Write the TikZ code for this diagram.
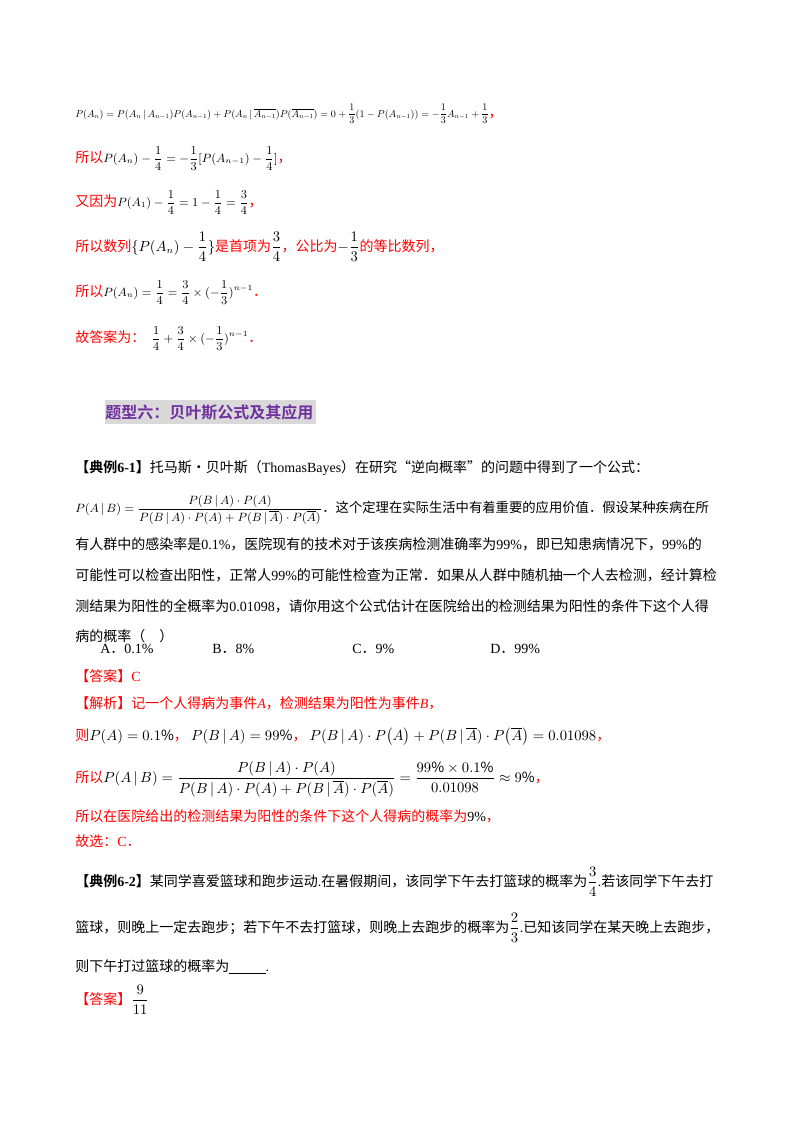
\documentclass[tikz,border=0pt]{standalone}
\usepackage{amsmath}
\usepackage{graphicx}
\usepackage{fontspec}
\setmainfont{Noto Sans CJK SC}
\newfontfamily\lat{Liberation Serif}
\newfontfamily\cjkb{Noto Sans CJK SC Bold}
\definecolor{rd}{RGB}{255,0,0}
\definecolor{pu}{RGB}{112,48,160}
\definecolor{tg}{RGB}{217,217,217}
\newcommand\La[1]{{\lat #1}}
\begin{document}
\begin{tikzpicture}[x=0.75pt,y=-0.75pt,
  txt/.style={anchor=base west,inner sep=0pt,font=\fontsize{10.5}{12}\selectfont},
  red/.style={txt,text=rd}]
\useasboundingbox[fill=white] (0,0) rectangle (800,1132);
% first block
\node[txt] (l1) at (75,117) {\resizebox{310pt}{!}{$P(A_n)=P(A_n\,|\,A_{n-1})P(A_{n-1})+P(A_n\,|\,\overline{A_{n-1}})P(\overline{A_{n-1}})=0+\dfrac{1}{3}(1-P(A_{n-1}))=-\dfrac{1}{3}A_{n-1}+\dfrac{1}{3}$}\textcolor{rd}{，}};
\node[red] (l2) at (75,162) {所以\textcolor{black}{\small$P(A_n)-\dfrac{1}{4}=-\dfrac{1}{3}[P(A_{n-1})-\dfrac{1}{4}]$}，};
\node[red] (l3) at (75,206) {又因为\textcolor{black}{\small$P(A_1)-\dfrac{1}{4}=1-\dfrac{1}{4}=\dfrac{3}{4}$}，};
\node[red] (l4) at (75,251) {所以数列\textcolor{black}{$\{P(A_n)-\dfrac{1}{4}\}$}是首项为\textcolor{black}{$\dfrac{3}{4}$}，公比为\textcolor{black}{$-\dfrac{1}{3}$}的等比数列，};
\node[red] (l5) at (75,296) {所以\textcolor{black}{\small$P(A_n)=\dfrac{1}{4}=\dfrac{3}{4}\times(-\dfrac{1}{3})^{n-1}$}．};
\node[red] (l6) at (75,342) {故答案为：\ \ \textcolor{black}{\small$\dfrac{1}{4}+\dfrac{3}{4}\times(-\dfrac{1}{3})^{n-1}$}．};
% title
\fill[tg] (105,400) rectangle (316,424);
\node[anchor=base west,inner sep=0pt,font=\fontsize{12}{14}\selectfont\cjkb,text=pu] (ttl) at (105,418) {题型六：贝叶斯公式及其应用};
% example 6-1
\node[txt] (e1) at (75,472) {{\cjkb【典例\La{\bfseries 6-1}】}托马斯·贝叶斯（\La{ThomasBayes}）在研究“逆向概率"的问题中得到了一个公式：};
\node[txt] (e2) at (75,512) {\small$P(A\,|\,B)=\dfrac{P(B\,|\,A)\cdot P(A)}{P(B\,|\,A)\cdot P(A)+P(B\,|\,\overline{A})\cdot P(\overline{A})}$\normalsize．这个定理在实际生活中有着重要的应用价值．假设某种疾病在所};
\node[txt] (e3) at (75,549) {有人群中的感染率是\La{0.1\%}，医院现有的技术对于该疾病检测准确率为\La{99\%}，即已知患病情况下，\La{99\%}的};
\node[txt] (e4) at (75,580) {可能性可以检查出阳性，正常人\La{99\%}的可能性检查为正常．如果从人群中随机抽一个人去检测，经计算检};
\node[txt] (e5) at (75,611) {测结果为阳性的全概率为\La{0.01098}，请你用这个公式估计在医院给出的检测结果为阳性的条件下这个人得};
\node[txt] (e6) at (75,641) {病的概率（\quad）};
\node[txt] (oA) at (100,653) {\La{A}．\La{0.1\%}};
\node[txt] (oB) at (212,653) {\La{B}．\La{8\%}};
\node[txt] (oC) at (352,653) {\La{C}．\La{9\%}};
\node[txt] (oD) at (490,653) {\La{D}．\La{99\%}};
\node[red] (a1) at (75,681) {【答案】\La{C}};
\node[red] (s1) at (75,708) {【解析】记一个人得病为事件\La{\itshape A}，检测结果为阳性为事件\La{\itshape B}，};
\node[red] (s2) at (75,740) {则\textcolor{black}{$P(A)=0.1\%$}，\ \textcolor{black}{$P(B\,|\,A)=99\%$}，\ \textcolor{black}{$P(B\,|\,A)\cdot P\big(A\big)+P(B\,|\,\overline{A})\cdot P\big(\overline{A}\big)=0.01098$}，};
\node[red] (s3) at (75,782) {所以\textcolor{black}{$P(A\,|\,B)=\dfrac{P(B\,|\,A)\cdot P(A)}{P(B\,|\,A)\cdot P(A)+P(B\,|\,\overline{A})\cdot P(\overline{A})}=\dfrac{99\%\times0.1\%}{0.01098}\approx9\%$}，};
\node[red] (s4) at (75,821) {所以在医院给出的检测结果为阳性的条件下这个人得病的概率为\textcolor{black}{\La{9\%}}，};
\node[red] (s5) at (75,846) {故选：\La{C}．};
% example 6-2
\node[txt] (f1) at (75,886) {{\cjkb【典例\La{\bfseries 6-2}】}某同学喜爱篮球和跑步运动\La{.}在暑假期间，该同学下午去打篮球的概率为$\dfrac{3}{4}$\La{.}若该同学下午去打};
\node[txt] (f2) at (75,932) {篮球，则晚上一定去跑步；若下午不去打篮球，则晚上去跑步的概率为$\dfrac{2}{3}$\La{.}已知该同学在某天晚上去跑步，};
\node[txt] (f3) at (75,971) {则下午打过篮球的概率为\underline{\hspace{2.6em}}\La{.}};
\node[red] (a2) at (75,1004) {【答案】\textcolor{black}{$\dfrac{9}{11}$}};
\end{tikzpicture}
\end{document}
